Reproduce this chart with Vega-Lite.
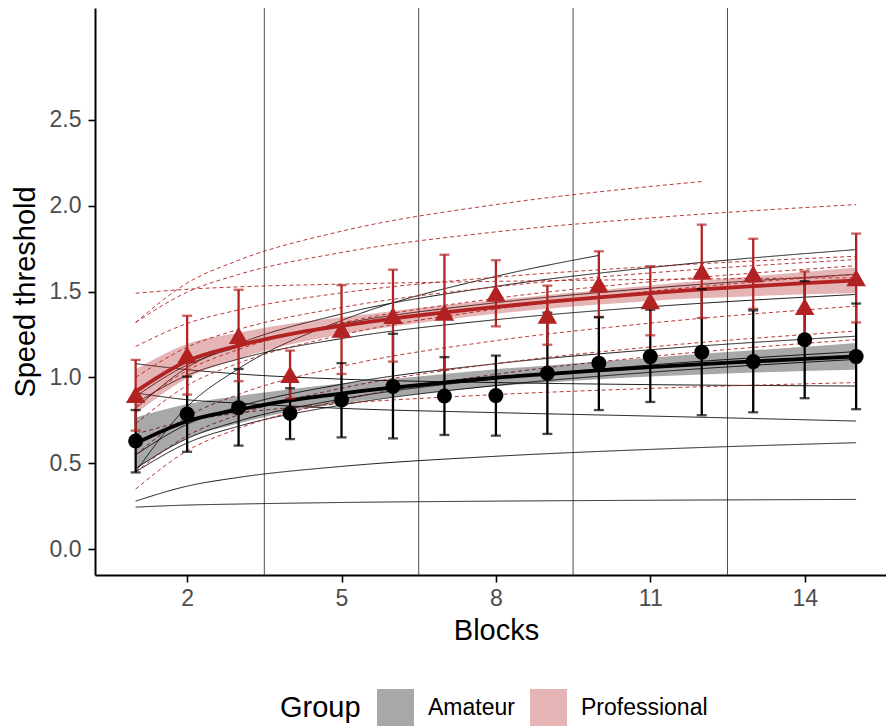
{
  "$schema": "https://vega.github.io/schema/vega-lite/v6.json",
  "autosize": "none",
  "width": 791,
  "height": 567,
  "padding": {"left": 95, "top": 8, "right": 0, "bottom": 153},
  "background": "white",
  "config": {
    "view": {"stroke": null},
    "font": "Liberation Sans",
    "axis": {
      "grid": false,
      "domainColor": "black",
      "domainWidth": 2,
      "tickColor": "black",
      "tickWidth": 1.6,
      "tickSize": 7,
      "labelColor": "#4d4d4d",
      "labelFont": "Liberation Sans",
      "labelFontSize": 23,
      "labelPadding": 5,
      "titleFont": "Liberation Sans",
      "titleFontSize": 29,
      "titleFontWeight": "normal",
      "titleColor": "black"
    },
    "legend": {
      "padding": 0,
      "labelFont": "Liberation Sans",
      "titleFont": "Liberation Sans"
    }
  },
  "datasets": {
    "vlines": [{"x": 3.5}, {"x": 6.5}, {"x": 9.5}, {"x": 12.5}],
    "indiv": [
      {"id": "A1", "group": "Amateur", "block": 1, "value": 0.45},
      {"id": "A1", "group": "Amateur", "block": 2, "value": 0.829},
      {"id": "A1", "group": "Amateur", "block": 3, "value": 1.051},
      {"id": "A1", "group": "Amateur", "block": 5, "value": 1.331},
      {"id": "A1", "group": "Amateur", "block": 8, "value": 1.588},
      {"id": "A1", "group": "Amateur", "block": 10, "value": 1.71},
      {"id": "A2", "group": "Amateur", "block": 1, "value": 0.82},
      {"id": "A2", "group": "Amateur", "block": 2, "value": 1.057},
      {"id": "A2", "group": "Amateur", "block": 3, "value": 1.195},
      {"id": "A2", "group": "Amateur", "block": 5, "value": 1.369},
      {"id": "A2", "group": "Amateur", "block": 8, "value": 1.53},
      {"id": "A2", "group": "Amateur", "block": 11, "value": 1.639},
      {"id": "A2", "group": "Amateur", "block": 15, "value": 1.744},
      {"id": "A3", "group": "Amateur", "block": 1, "value": 0.89},
      {"id": "A3", "group": "Amateur", "block": 2, "value": 1.072},
      {"id": "A3", "group": "Amateur", "block": 3, "value": 1.178},
      {"id": "A3", "group": "Amateur", "block": 5, "value": 1.312},
      {"id": "A3", "group": "Amateur", "block": 8, "value": 1.435},
      {"id": "A3", "group": "Amateur", "block": 11, "value": 1.519},
      {"id": "A3", "group": "Amateur", "block": 15, "value": 1.6},
      {"id": "A4", "group": "Amateur", "block": 1, "value": 0.85},
      {"id": "A4", "group": "Amateur", "block": 2, "value": 1.012},
      {"id": "A4", "group": "Amateur", "block": 3, "value": 1.107},
      {"id": "A4", "group": "Amateur", "block": 5, "value": 1.226},
      {"id": "A4", "group": "Amateur", "block": 8, "value": 1.336},
      {"id": "A4", "group": "Amateur", "block": 11, "value": 1.411},
      {"id": "A4", "group": "Amateur", "block": 15, "value": 1.483},
      {"id": "A5", "group": "Amateur", "block": 1, "value": 0.55},
      {"id": "A5", "group": "Amateur", "block": 2, "value": 0.727},
      {"id": "A5", "group": "Amateur", "block": 3, "value": 0.83},
      {"id": "A5", "group": "Amateur", "block": 5, "value": 0.96},
      {"id": "A5", "group": "Amateur", "block": 8, "value": 1.08},
      {"id": "A5", "group": "Amateur", "block": 11, "value": 1.161},
      {"id": "A5", "group": "Amateur", "block": 15, "value": 1.24},
      {"id": "A6", "group": "Amateur", "block": 1, "value": 0.47},
      {"id": "A6", "group": "Amateur", "block": 2, "value": 0.644},
      {"id": "A6", "group": "Amateur", "block": 3, "value": 0.746},
      {"id": "A6", "group": "Amateur", "block": 5, "value": 0.874},
      {"id": "A6", "group": "Amateur", "block": 8, "value": 0.992},
      {"id": "A6", "group": "Amateur", "block": 11, "value": 1.072},
      {"id": "A6", "group": "Amateur", "block": 15, "value": 1.15},
      {"id": "A7", "group": "Amateur", "block": 1, "value": 0.45},
      {"id": "A7", "group": "Amateur", "block": 2, "value": 0.618},
      {"id": "A7", "group": "Amateur", "block": 3, "value": 0.716},
      {"id": "A7", "group": "Amateur", "block": 5, "value": 0.839},
      {"id": "A7", "group": "Amateur", "block": 8, "value": 0.953},
      {"id": "A7", "group": "Amateur", "block": 11, "value": 1.03},
      {"id": "A7", "group": "Amateur", "block": 15, "value": 1.105},
      {"id": "A8", "group": "Amateur", "block": 1, "value": 0.91},
      {"id": "A8", "group": "Amateur", "block": 2, "value": 0.87},
      {"id": "A8", "group": "Amateur", "block": 3, "value": 0.85},
      {"id": "A8", "group": "Amateur", "block": 5, "value": 0.82},
      {"id": "A8", "group": "Amateur", "block": 8, "value": 0.795},
      {"id": "A8", "group": "Amateur", "block": 11, "value": 0.775},
      {"id": "A8", "group": "Amateur", "block": 15, "value": 0.746},
      {"id": "A9", "group": "Amateur", "block": 1, "value": 1.08},
      {"id": "A9", "group": "Amateur", "block": 2, "value": 1.045},
      {"id": "A9", "group": "Amateur", "block": 3, "value": 1.02},
      {"id": "A9", "group": "Amateur", "block": 5, "value": 0.99},
      {"id": "A9", "group": "Amateur", "block": 8, "value": 0.97},
      {"id": "A9", "group": "Amateur", "block": 11, "value": 0.958},
      {"id": "A9", "group": "Amateur", "block": 15, "value": 0.95},
      {"id": "A10", "group": "Amateur", "block": 1, "value": 0.28},
      {"id": "A10", "group": "Amateur", "block": 2, "value": 0.367},
      {"id": "A10", "group": "Amateur", "block": 3, "value": 0.418},
      {"id": "A10", "group": "Amateur", "block": 5, "value": 0.482},
      {"id": "A10", "group": "Amateur", "block": 8, "value": 0.541},
      {"id": "A10", "group": "Amateur", "block": 11, "value": 0.581},
      {"id": "A10", "group": "Amateur", "block": 15, "value": 0.62},
      {"id": "A11", "group": "Amateur", "block": 1, "value": 0.245},
      {"id": "A11", "group": "Amateur", "block": 2, "value": 0.257},
      {"id": "A11", "group": "Amateur", "block": 3, "value": 0.263},
      {"id": "A11", "group": "Amateur", "block": 5, "value": 0.272},
      {"id": "A11", "group": "Amateur", "block": 8, "value": 0.28},
      {"id": "A11", "group": "Amateur", "block": 11, "value": 0.285},
      {"id": "A11", "group": "Amateur", "block": 15, "value": 0.29},
      {"id": "P1", "group": "Professional", "block": 1, "value": 1.32},
      {"id": "P1", "group": "Professional", "block": 2, "value": 1.549},
      {"id": "P1", "group": "Professional", "block": 3, "value": 1.682},
      {"id": "P1", "group": "Professional", "block": 5, "value": 1.851},
      {"id": "P1", "group": "Professional", "block": 8, "value": 2.006},
      {"id": "P1", "group": "Professional", "block": 11, "value": 2.111},
      {"id": "P1", "group": "Professional", "block": 12, "value": 2.14},
      {"id": "P2", "group": "Professional", "block": 1, "value": 1.32},
      {"id": "P2", "group": "Professional", "block": 2, "value": 1.496},
      {"id": "P2", "group": "Professional", "block": 3, "value": 1.599},
      {"id": "P2", "group": "Professional", "block": 5, "value": 1.727},
      {"id": "P2", "group": "Professional", "block": 8, "value": 1.847},
      {"id": "P2", "group": "Professional", "block": 11, "value": 1.928},
      {"id": "P2", "group": "Professional", "block": 15, "value": 2.006},
      {"id": "P3", "group": "Professional", "block": 1, "value": 1.49},
      {"id": "P3", "group": "Professional", "block": 2, "value": 1.513},
      {"id": "P3", "group": "Professional", "block": 3, "value": 1.527},
      {"id": "P3", "group": "Professional", "block": 5, "value": 1.543},
      {"id": "P3", "group": "Professional", "block": 8, "value": 1.559},
      {"id": "P3", "group": "Professional", "block": 11, "value": 1.57},
      {"id": "P3", "group": "Professional", "block": 15, "value": 1.58},
      {"id": "P4", "group": "Professional", "block": 1, "value": 1.18},
      {"id": "P4", "group": "Professional", "block": 2, "value": 1.314},
      {"id": "P4", "group": "Professional", "block": 3, "value": 1.393},
      {"id": "P4", "group": "Professional", "block": 5, "value": 1.492},
      {"id": "P4", "group": "Professional", "block": 8, "value": 1.583},
      {"id": "P4", "group": "Professional", "block": 11, "value": 1.645},
      {"id": "P4", "group": "Professional", "block": 15, "value": 1.705},
      {"id": "P5", "group": "Professional", "block": 1, "value": 1.0},
      {"id": "P5", "group": "Professional", "block": 2, "value": 1.176},
      {"id": "P5", "group": "Professional", "block": 3, "value": 1.279},
      {"id": "P5", "group": "Professional", "block": 5, "value": 1.407},
      {"id": "P5", "group": "Professional", "block": 8, "value": 1.527},
      {"id": "P5", "group": "Professional", "block": 11, "value": 1.608},
      {"id": "P5", "group": "Professional", "block": 15, "value": 1.686},
      {"id": "P6", "group": "Professional", "block": 1, "value": 0.83},
      {"id": "P6", "group": "Professional", "block": 2, "value": 1.04},
      {"id": "P6", "group": "Professional", "block": 3, "value": 1.163},
      {"id": "P6", "group": "Professional", "block": 5, "value": 1.317},
      {"id": "P6", "group": "Professional", "block": 8, "value": 1.46},
      {"id": "P6", "group": "Professional", "block": 11, "value": 1.557},
      {"id": "P6", "group": "Professional", "block": 15, "value": 1.65},
      {"id": "P7", "group": "Professional", "block": 1, "value": 0.73},
      {"id": "P7", "group": "Professional", "block": 2, "value": 0.953},
      {"id": "P7", "group": "Professional", "block": 3, "value": 1.083},
      {"id": "P7", "group": "Professional", "block": 5, "value": 1.247},
      {"id": "P7", "group": "Professional", "block": 8, "value": 1.398},
      {"id": "P7", "group": "Professional", "block": 11, "value": 1.501},
      {"id": "P7", "group": "Professional", "block": 15, "value": 1.6},
      {"id": "P8", "group": "Professional", "block": 1, "value": 0.55},
      {"id": "P8", "group": "Professional", "block": 2, "value": 0.771},
      {"id": "P8", "group": "Professional", "block": 3, "value": 0.901},
      {"id": "P8", "group": "Professional", "block": 5, "value": 1.064},
      {"id": "P8", "group": "Professional", "block": 8, "value": 1.214},
      {"id": "P8", "group": "Professional", "block": 11, "value": 1.316},
      {"id": "P8", "group": "Professional", "block": 15, "value": 1.415},
      {"id": "P9", "group": "Professional", "block": 1, "value": 0.45},
      {"id": "P9", "group": "Professional", "block": 2, "value": 0.66},
      {"id": "P9", "group": "Professional", "block": 3, "value": 0.783},
      {"id": "P9", "group": "Professional", "block": 5, "value": 0.937},
      {"id": "P9", "group": "Professional", "block": 8, "value": 1.08},
      {"id": "P9", "group": "Professional", "block": 11, "value": 1.177},
      {"id": "P9", "group": "Professional", "block": 15, "value": 1.27},
      {"id": "P10", "group": "Professional", "block": 1, "value": 0.35},
      {"id": "P10", "group": "Professional", "block": 2, "value": 0.573},
      {"id": "P10", "group": "Professional", "block": 3, "value": 0.703},
      {"id": "P10", "group": "Professional", "block": 5, "value": 0.867},
      {"id": "P10", "group": "Professional", "block": 8, "value": 1.018},
      {"id": "P10", "group": "Professional", "block": 11, "value": 1.121},
      {"id": "P10", "group": "Professional", "block": 15, "value": 1.22},
      {"id": "P11", "group": "Professional", "block": 1, "value": 0.67},
      {"id": "P11", "group": "Professional", "block": 2, "value": 0.747},
      {"id": "P11", "group": "Professional", "block": 3, "value": 0.792},
      {"id": "P11", "group": "Professional", "block": 5, "value": 0.848},
      {"id": "P11", "group": "Professional", "block": 8, "value": 0.9},
      {"id": "P11", "group": "Professional", "block": 11, "value": 0.936},
      {"id": "P11", "group": "Professional", "block": 15, "value": 0.97}
    ],
    "fit": [
      {"group": "Amateur", "block": 1, "fit": 0.616, "lo": 0.466, "hi": 0.766},
      {"group": "Amateur", "block": 2, "fit": 0.745, "lo": 0.645, "hi": 0.845},
      {"group": "Amateur", "block": 3, "fit": 0.812, "lo": 0.732, "hi": 0.892},
      {"group": "Amateur", "block": 4, "fit": 0.866, "lo": 0.801, "hi": 0.931},
      {"group": "Amateur", "block": 5, "fit": 0.906, "lo": 0.848, "hi": 0.964},
      {"group": "Amateur", "block": 6, "fit": 0.94, "lo": 0.888, "hi": 0.992},
      {"group": "Amateur", "block": 7, "fit": 0.97, "lo": 0.92, "hi": 1.02},
      {"group": "Amateur", "block": 8, "fit": 0.998, "lo": 0.948, "hi": 1.048},
      {"group": "Amateur", "block": 9, "fit": 1.02, "lo": 0.97, "hi": 1.07},
      {"group": "Amateur", "block": 10, "fit": 1.041, "lo": 0.989, "hi": 1.093},
      {"group": "Amateur", "block": 11, "fit": 1.06, "lo": 1.005, "hi": 1.115},
      {"group": "Amateur", "block": 12, "fit": 1.077, "lo": 1.017, "hi": 1.137},
      {"group": "Amateur", "block": 13, "fit": 1.093, "lo": 1.028, "hi": 1.158},
      {"group": "Amateur", "block": 14, "fit": 1.108, "lo": 1.038, "hi": 1.178},
      {"group": "Amateur", "block": 15, "fit": 1.122, "lo": 1.044, "hi": 1.2},
      {"group": "Professional", "block": 1, "fit": 0.917, "lo": 0.787, "hi": 1.047},
      {"group": "Professional", "block": 2, "fit": 1.095, "lo": 0.995, "hi": 1.195},
      {"group": "Professional", "block": 3, "fit": 1.185, "lo": 1.11, "hi": 1.26},
      {"group": "Professional", "block": 4, "fit": 1.252, "lo": 1.192, "hi": 1.312},
      {"group": "Professional", "block": 5, "fit": 1.3, "lo": 1.25, "hi": 1.35},
      {"group": "Professional", "block": 6, "fit": 1.342, "lo": 1.297, "hi": 1.387},
      {"group": "Professional", "block": 7, "fit": 1.378, "lo": 1.336, "hi": 1.42},
      {"group": "Professional", "block": 8, "fit": 1.41, "lo": 1.37, "hi": 1.45},
      {"group": "Professional", "block": 9, "fit": 1.44, "lo": 1.4, "hi": 1.48},
      {"group": "Professional", "block": 10, "fit": 1.466, "lo": 1.424, "hi": 1.508},
      {"group": "Professional", "block": 11, "fit": 1.49, "lo": 1.445, "hi": 1.535},
      {"group": "Professional", "block": 12, "fit": 1.512, "lo": 1.462, "hi": 1.562},
      {"group": "Professional", "block": 13, "fit": 1.531, "lo": 1.473, "hi": 1.589},
      {"group": "Professional", "block": 14, "fit": 1.549, "lo": 1.484, "hi": 1.614},
      {"group": "Professional", "block": 15, "fit": 1.565, "lo": 1.49, "hi": 1.64}
    ],
    "means": [
      {"group": "Amateur", "block": 1, "mean": 0.63, "lo": 0.447, "hi": 0.81},
      {"group": "Amateur", "block": 2, "mean": 0.787, "lo": 0.567, "hi": 1.005},
      {"group": "Amateur", "block": 3, "mean": 0.824, "lo": 0.603, "hi": 1.049},
      {"group": "Amateur", "block": 4, "mean": 0.791, "lo": 0.641, "hi": 0.937},
      {"group": "Amateur", "block": 5, "mean": 0.869, "lo": 0.651, "hi": 1.083},
      {"group": "Amateur", "block": 6, "mean": 0.947, "lo": 0.645, "hi": 1.254},
      {"group": "Amateur", "block": 7, "mean": 0.892, "lo": 0.665, "hi": 1.118},
      {"group": "Amateur", "block": 8, "mean": 0.894, "lo": 0.661, "hi": 1.127},
      {"group": "Amateur", "block": 9, "mean": 1.024, "lo": 0.671, "hi": 1.377},
      {"group": "Amateur", "block": 10, "mean": 1.083, "lo": 0.81, "hi": 1.35},
      {"group": "Amateur", "block": 11, "mean": 1.121, "lo": 0.857, "hi": 1.394},
      {"group": "Amateur", "block": 12, "mean": 1.147, "lo": 0.78, "hi": 1.514},
      {"group": "Amateur", "block": 13, "mean": 1.092, "lo": 0.797, "hi": 1.39},
      {"group": "Amateur", "block": 14, "mean": 1.219, "lo": 0.879, "hi": 1.56},
      {"group": "Amateur", "block": 15, "mean": 1.121, "lo": 0.815, "hi": 1.43},
      {"group": "Professional", "block": 1, "mean": 0.9, "lo": 0.69, "hi": 1.102},
      {"group": "Professional", "block": 2, "mean": 1.131, "lo": 0.9, "hi": 1.359},
      {"group": "Professional", "block": 3, "mean": 1.244, "lo": 0.978, "hi": 1.51},
      {"group": "Professional", "block": 4, "mean": 1.017, "lo": 0.878, "hi": 1.156},
      {"group": "Professional", "block": 5, "mean": 1.28, "lo": 1.02, "hi": 1.537},
      {"group": "Professional", "block": 6, "mean": 1.36, "lo": 1.092, "hi": 1.627},
      {"group": "Professional", "block": 7, "mean": 1.379, "lo": 1.044, "hi": 1.714},
      {"group": "Professional", "block": 8, "mean": 1.49, "lo": 1.297, "hi": 1.682},
      {"group": "Professional", "block": 9, "mean": 1.362, "lo": 1.19, "hi": 1.534},
      {"group": "Professional", "block": 10, "mean": 1.543, "lo": 1.352, "hi": 1.734},
      {"group": "Professional", "block": 11, "mean": 1.446, "lo": 1.245, "hi": 1.647},
      {"group": "Professional", "block": 12, "mean": 1.617, "lo": 1.346, "hi": 1.889},
      {"group": "Professional", "block": 13, "mean": 1.603, "lo": 1.399, "hi": 1.807},
      {"group": "Professional", "block": 14, "mean": 1.413, "lo": 1.21, "hi": 1.617},
      {"group": "Professional", "block": 15, "mean": 1.58, "lo": 1.32, "hi": 1.837}
    ]
  },
  "encoding": {
    "x": {
      "type": "quantitative",
      "scale": {"domain": [0.21, 15.58], "nice": false, "zero": false},
      "axis": {"values": [2, 5, 8, 11, 14], "title": "Blocks", "titleX": 401, "titlePadding": 6}
    },
    "y": {
      "type": "quantitative",
      "scale": {"domain": [-0.15, 3.15], "nice": false, "zero": false},
      "axis": {"values": [0, 0.5, 1, 1.5, 2, 2.5], "format": ".1f", "title": "Speed threshold", "titlePadding": 9, "labelPadding": 7}
    }
  },
  "layer": [
    {
      "data": {"name": "vlines"},
      "mark": {"type": "rule", "stroke": "#3a3a3a", "strokeWidth": 0.9},
      "encoding": {"x": {"field": "x", "type": "quantitative"}}
    },
    {
      "data": {"name": "indiv"},
      "mark": {"type": "line", "strokeWidth": 1, "interpolate": "monotone", "opacity": 0.9},
      "encoding": {
        "x": {"field": "block", "type": "quantitative"},
        "y": {"field": "value", "type": "quantitative"},
        "detail": {"field": "id", "type": "nominal"},
        "color": {"field": "group", "type": "nominal", "scale": {"domain": ["Amateur", "Professional"], "range": ["#000000", "#B22222"]}, "legend": null},
        "strokeDash": {"field": "group", "type": "nominal", "scale": {"range": [[1, 0], [4, 3]]}, "legend": null}
      }
    },
    {
      "data": {"name": "fit"},
      "mark": {"type": "area", "opacity": 0.34, "interpolate": "monotone"},
      "encoding": {
        "x": {"field": "block", "type": "quantitative"},
        "y": {"field": "lo", "type": "quantitative"},
        "y2": {"field": "hi"},
        "fill": {
          "field": "group", "type": "nominal",
          "scale": {"range": ["#000000", "#B22222"]},
          "legend": {
            "title": "Group", "orient": "none", "direction": "horizontal",
            "legendX": 185, "legendY": 681,
            "titleOrient": "left",
            "titleFontSize": 29, "titleFontWeight": "normal", "titleColor": "black", "titlePadding": 16,
            "labelFontSize": 23, "labelColor": "black", "labelOffset": 14, "columnPadding": 15,
            "symbolType": "square", "symbolSize": 1369, "symbolStrokeWidth": 0, "symbolOpacity": 0.34
          }
        }
      }
    },
    {
      "data": {"name": "fit"},
      "mark": {"type": "line", "strokeWidth": 3.8, "interpolate": "monotone"},
      "encoding": {
        "x": {"field": "block", "type": "quantitative"},
        "y": {"field": "fit", "type": "quantitative"},
        "color": {"field": "group", "type": "nominal", "legend": null}
      }
    },
    {
      "data": {"name": "means"},
      "mark": {"type": "rule", "strokeWidth": 2.3},
      "encoding": {
        "x": {"field": "block", "type": "quantitative"},
        "y": {"field": "lo", "type": "quantitative"},
        "y2": {"field": "hi"},
        "color": {"field": "group", "type": "nominal", "legend": null}
      }
    },
    {
      "data": {"name": "means"},
      "mark": {"type": "tick", "orient": "horizontal", "size": 10, "thickness": 2.3},
      "encoding": {
        "x": {"field": "block", "type": "quantitative"},
        "y": {"field": "lo", "type": "quantitative"},
        "color": {"field": "group", "type": "nominal", "legend": null}
      }
    },
    {
      "data": {"name": "means"},
      "mark": {"type": "tick", "orient": "horizontal", "size": 10, "thickness": 2.3},
      "encoding": {
        "x": {"field": "block", "type": "quantitative"},
        "y": {"field": "hi", "type": "quantitative"},
        "color": {"field": "group", "type": "nominal", "legend": null}
      }
    },
    {
      "data": {"name": "means"},
      "mark": {"type": "point", "filled": true, "opacity": 1, "strokeWidth": 0},
      "encoding": {
        "x": {"field": "block", "type": "quantitative"},
        "y": {"field": "mean", "type": "quantitative"},
        "color": {"field": "group", "type": "nominal", "legend": null},
        "size": {"field": "group", "type": "nominal", "scale": {"range": [225, 380]}, "legend": null},
        "shape": {"field": "group", "type": "nominal", "scale": {"range": ["circle", "triangle-up"]}, "legend": null}
      }
    }
  ]
}
